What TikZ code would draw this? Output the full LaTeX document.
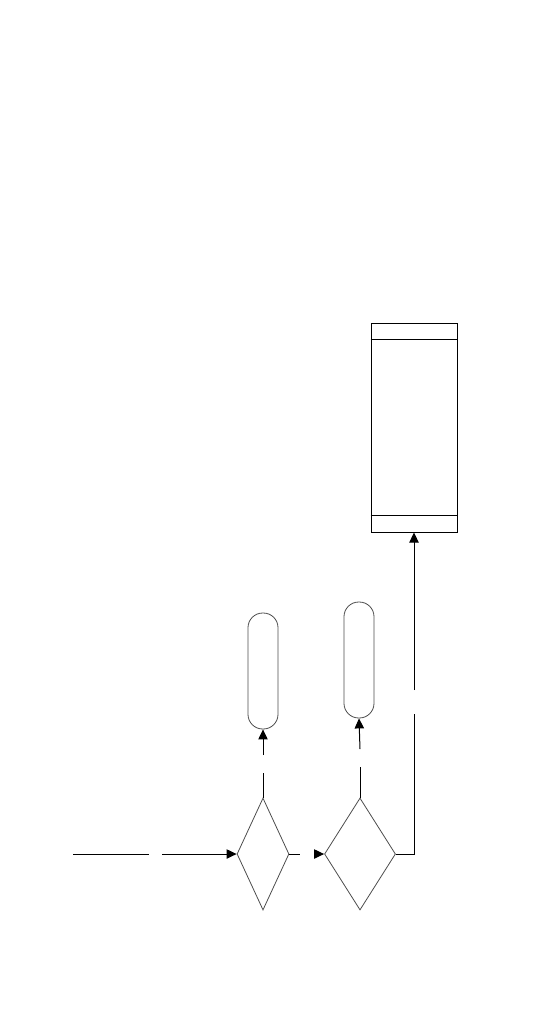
\documentclass[tikz,border=0pt]{standalone}
\usetikzlibrary{shapes.geometric,arrows.meta,calc}
\begin{document}
\begin{tikzpicture}[x=0.75pt,y=-0.75pt,
  conn/.style={line width=0.75pt,black},
  arr/.style={conn,-{Triangle[length=7.5pt,width=7pt]}},
  dec/.style={draw=black!70,line width=0.6pt,shape=diamond,inner sep=0pt,minimum height=84pt},
  capsule/.style={draw=black!70,line width=0.6pt,rectangle,rounded corners=11pt,inner sep=0pt,minimum width=22.5pt,minimum height=87pt},
  store/.style={draw=black,line width=0.75pt,rectangle,inner sep=0pt,minimum width=64.5pt,minimum height=156.75pt}]
\useasboundingbox (0,0) rectangle (540,1026);
\node[dec,minimum width=39pt] (d1) at (263,854) {};
\node[dec,minimum width=53.25pt] (d2) at (360,854) {};
\node[capsule] (c1) at (263,671) {};
\node[capsule] (c2) at (359,660) {};
\node[store] (box) at (414,427.5) {};
\draw[line width=0.75pt] ($(box.north west)+(0,17)$) -- ($(box.north east)+(0,17)$);
\draw[line width=0.75pt] ($(box.south west)+(0,-17)$) -- ($(box.south east)+(0,-17)$);
% coordinates for free ends and gaps
\coordinate (in0) at (73,854);
\coordinate (in1) at (149,854);
\coordinate (in2) at (162,854);
\coordinate (m1) at (300,854);
\coordinate (m2) at (314,854);
\coordinate (u1) at (263,773);
\coordinate (u2) at (263,755);
\coordinate (v1) at (360,767);
\coordinate (v2) at (360,749);
\coordinate (r0) at (414,854);
\coordinate (r1) at (414,714);
\coordinate (r2) at (414,690);
\draw[conn] (in0) -- (in1);
\draw[arr] (in2) -- (d1.west);
\draw[conn] (d1.east) -- (m1);
\draw[arr] (m2) -- (d2.west);
\draw[conn] (d1.north) -- (u1);
\draw[arr] (u2) -- (c1.south);
\draw[conn] (d2.north) -- (v1);
\draw[arr] (v2) -- (c2.south);
\draw[conn] (d2.east) -- (r0) -- (r1);
\draw[arr] (r2) -- (box.south);
\end{tikzpicture}
\end{document}
